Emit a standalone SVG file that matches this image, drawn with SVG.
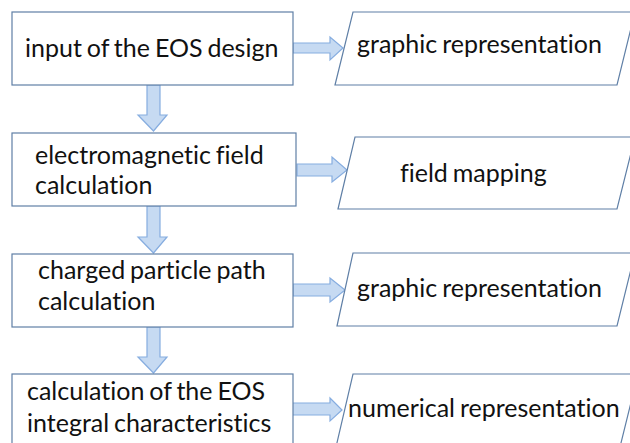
<svg xmlns="http://www.w3.org/2000/svg" width="630" height="443" viewBox="0 0 630 443">
<style>
.box{fill:#ffffff;stroke:#5f7fa6;stroke-width:1.2}
.arr{fill:#c6daf2;stroke:#86ade0;stroke-width:1.2;stroke-linejoin:miter}
.t{font-family:Lato,"Liberation Sans",sans-serif;font-size:25px;word-spacing:-1.5px;fill:#111111;font-variant-ligatures:none;font-feature-settings:"liga" 0,"dlig" 0}
</style>
<rect width="630" height="443" fill="#ffffff"/>
<g id="connectors">
<path class="arr" d="M147,85 H160 V115 H167 L153.5,131 L138,115 H147 Z"/>
<path class="arr" d="M147,206 H160 V237 H167 L153.5,253 L138,237 H147 Z"/>
<path class="arr" d="M147,327 H160 V357 H167 L153.5,373 L138,357 H147 Z"/>
<path class="arr" d="M293,43 H330 V37 L343,48 L330,60 V53 H293 Z"/>
<path class="arr" d="M297,164 H332 V157 L347,170 L332,182 V176 H297 Z"/>
<path class="arr" d="M293,284 H330 V278 L345,290 L330,302 V296 H293 Z"/>
<path class="arr" d="M292,403 H330 V398 L342,410 L330,421 V415 H292 Z"/>
</g>
<g id="n1"><rect class="box" x="12" y="12" width="281" height="73"/><text class="t" x="25" y="57">input of the EOS design</text></g>
<g id="n2"><rect class="box" x="12" y="133" width="284" height="73"/><text class="t" x="35" y="164">electromagnetic field</text><text class="t" x="35" y="194">calculation</text></g>
<g id="n3"><rect class="box" x="12" y="254" width="281" height="73"/><text class="t" x="38" y="279">charged particle path</text><text class="t" x="38" y="310">calculation</text></g>
<g id="n4"><rect class="box" x="12" y="374" width="281" height="80"/><text class="t" x="27" y="400">calculation of the EOS</text><text class="t" x="27" y="432">integral characteristics</text></g>
<g id="o1"><path class="box" d="M353,12 H635 L617,85 H335 Z"/><text class="t" x="357" y="53">graphic representation</text></g>
<g id="o2"><path class="box" d="M355,137 H635 L617,209 H338 Z"/><text class="t" x="400" y="182">field mapping</text></g>
<g id="o3"><path class="box" d="M353,253 H635 L617,326 H337 Z"/><text class="t" x="357" y="297">graphic representation</text></g>
<g id="o4"><path class="box" d="M353,374 H638 L620,447 H336 Z"/><text class="t" x="348" y="417">numerical representation</text></g>
</svg>
